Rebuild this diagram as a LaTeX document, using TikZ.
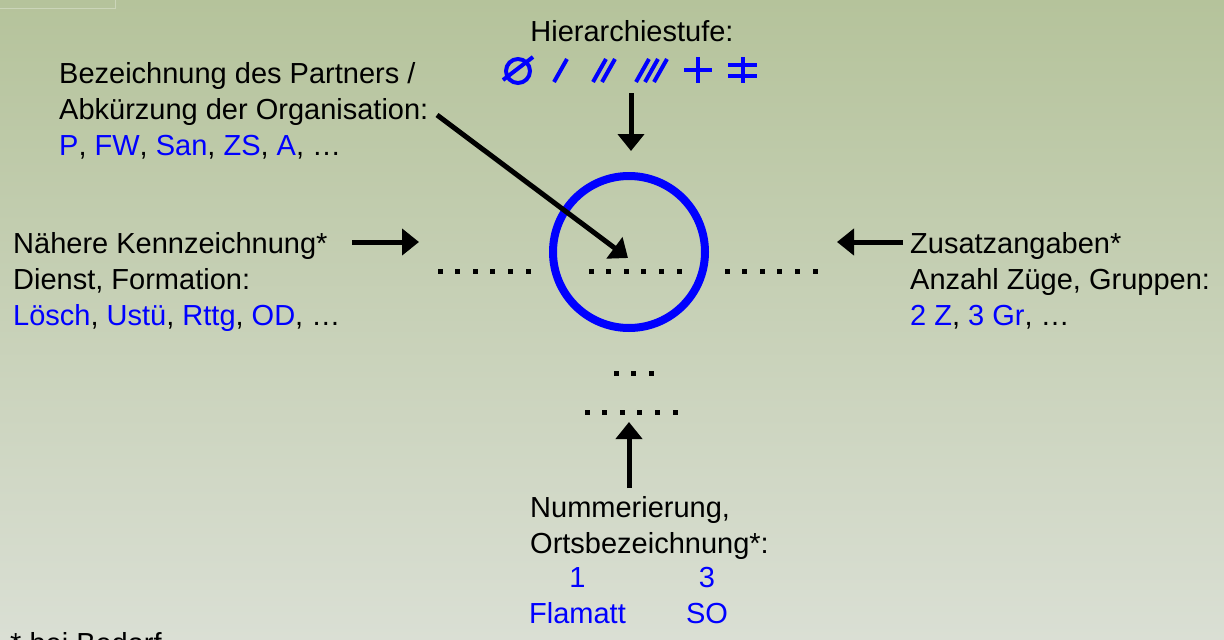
\documentclass[tikz,border=0pt]{standalone}
\usepackage{fontspec}
\setmainfont{Liberation Sans}
\usetikzlibrary{arrows.meta}
\definecolor{hgoben}{RGB}{181,195,155}
\definecolor{hgunten}{RGB}{218,223,212}
\newcommand{\bl}[1]{\textcolor{blue}{#1}}
\newcommand{\punktreihe}[3]{\foreach \i in {1,...,#3} \fill ({#1+17.6*(\i-1)-2.5},{#2-2.5}) rectangle ++(5,5);}

\begin{document}
\begin{tikzpicture}[x=1pt,y=-1pt,
  txt/.style={inner sep=0pt,align=left,anchor=north west,font=\fontsize{29}{36}\selectfont},
  pfeil/.style={line width=5pt,-{Triangle[length=17pt,width=26pt]}},
  sym/.style={blue,line width=4pt}]
\useasboundingbox (0,0) rectangle (1224,640);
\shade[top color=hgoben,bottom color=hgunten] (0,0) rectangle (1224,640);
\draw[hgoben!70!white,line width=1pt] (0,8) -- (115,8) -- (115,0);

% Hierarchiestufe
\node[txt,anchor=base] (hier) at (632,41) {Hierarchiestufe:};
\draw[sym] (518,71) circle (12);
\draw[sym] (503,80) -- (533,57);
\draw[sym] (554,82) -- (567,59);
\draw[sym] (593,82) -- (606,59) (602,82) -- (615,59);
\draw[sym] (636,82) -- (649,59) (645,82) -- (658,59) (654,82) -- (667,59);
\draw[sym] (684,70) -- (712,70) (698,57) -- (698,83);
\draw[sym] (743,57) -- (743,83) (728,65) -- (757,65) (728,76) -- (757,76);

% Texte
\node[txt] (partner) at (59,62) {Bezeichnung des Partners /\\Abkürzung der Organisation:\\
  \bl{P}, \bl{FW}, \bl{San}, \bl{ZS}, \bl{A}, …};
\node[txt] (naeher) at (13,232) {Nähere Kennzeichnung*\\Dienst, Formation:\\
  \bl{Lösch}, \bl{Ustü}, \bl{Rttg}, \bl{OD}, …};
\node[txt] (zusatz) at (910,232) {Zusatzangaben*\\Anzahl Züge, Gruppen:\\
  \bl{2 Z}, \bl{3 Gr}, …};
\node[txt] (nummer) at (530,496) {Nummerierung,\\Ortsbezeichnung*:};
\node[txt,anchor=north,align=center,blue] (eins) at (577.5,567) {1\\Flamatt};
\node[txt,anchor=north,align=center,blue] (drei) at (707,567) {3\\SO};
\node[txt] (bedarf) at (10,632) {* bei Bedarf};

% Zeichen
\node[draw=blue,line width=8pt,circle,minimum size=152pt,inner sep=0pt] (zeichen) at (629,252) {};
\punktreihe{440}{271}{6}
\punktreihe{591}{271}{6}
\punktreihe{727}{271}{6}
\punktreihe{616}{373}{3}
\punktreihe{587}{412}{6}

% Pfeile
\coordinate (p1) at (437,115);  \coordinate (p1e) at (628,258);
\coordinate (p2) at (631,93);   \coordinate (p2e) at (631,151);
\coordinate (p3) at (352,242);  \coordinate (p3e) at (419,242);
\coordinate (p4) at (903,242);  \coordinate (p4e) at (837,242);
\coordinate (p5) at (629,488);  \coordinate (p5e) at (629,422);
\draw[pfeil] (p1) -- (p1e);
\draw[pfeil] (p2) -- (p2e);
\draw[pfeil] (p3) -- (p3e);
\draw[pfeil] (p4) -- (p4e);
\draw[pfeil] (p5) -- (p5e);
\end{tikzpicture}
\end{document}
